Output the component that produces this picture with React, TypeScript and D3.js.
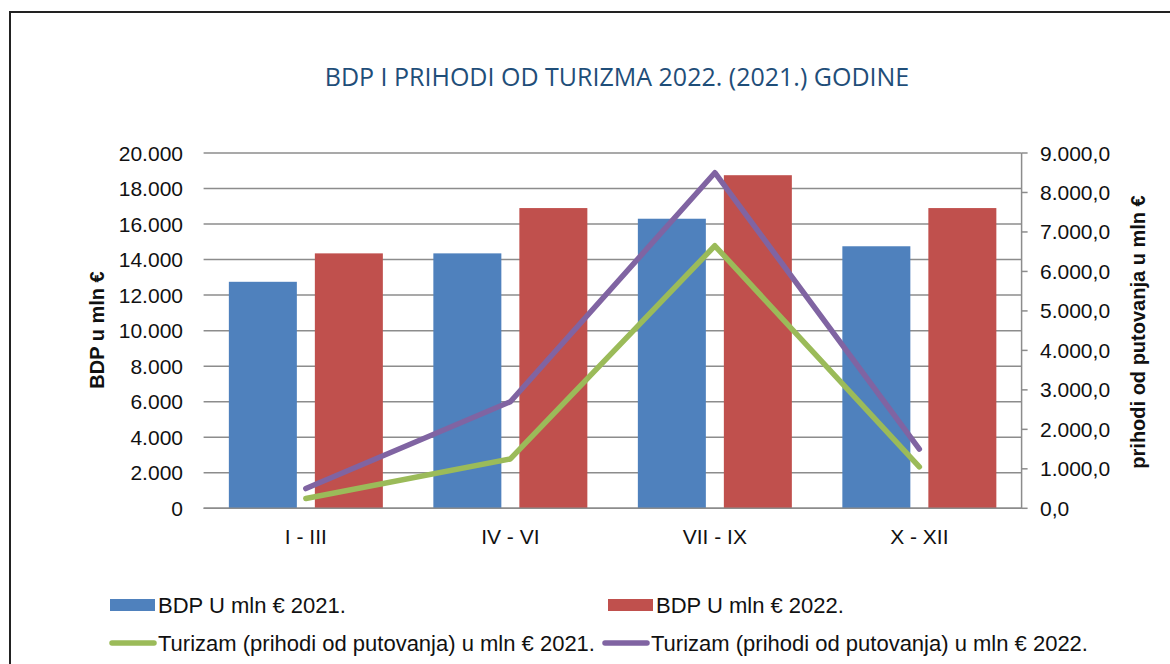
import React, { useRef, useEffect } from 'react';
import * as d3 from 'd3';

// quarters
const categories = ['I - III', 'IV - VI', 'VII - IX', 'X - XII'];
// BDP u mln € (left axis)
const bdp2021 = [12750, 14350, 16300, 14750];
const bdp2022 = [14350, 16900, 18750, 16900];
// prihodi od putovanja u mln € (right axis)
const tur2021 = [250, 1250, 6650, 1050];
const tur2022 = [500, 2700, 8500, 1500];

const leftTicks = d3.range(0, 20001, 2000);
const rightTicks = d3.range(0, 9001, 1000);

const legendItems = [
  { label: 'BDP U mln € 2021.', color: '#4F81BD', kind: 'bar' },
  { label: 'BDP U mln € 2022.', color: '#C0504D', kind: 'bar' },
  { label: 'Turizam (prihodi od putovanja) u mln € 2021.', color: '#9BBB59', kind: 'line' },
  { label: 'Turizam (prihodi od putovanja) u mln € 2022.', color: '#8064A2', kind: 'line' },
];

const App = () => {
  const svgRef = useRef(null);

  useEffect(() => {
    document.body.style.margin = '0';
    const svg = d3.select(svgRef.current);
    svg.selectAll('*').remove();

    const width = 1170;
    const height = 664;
    const left = 203.6, right = 1021.6, top = 153, bottom = 508.3;
    const font = "'Liberation Sans', Arial, sans-serif";

    svg.attr('width', width).attr('height', height);
    svg.append('rect').attr('width', width).attr('height', height).attr('fill', '#fff');

    // frame
    svg.append('path')
      .attr('d', `M10,${height} L10,12 L${width},12`)
      .attr('fill', 'none').attr('stroke', '#222').attr('stroke-width', 2);

    // title
    svg.append('text')
      .attr('x', 617).attr('y', 86)
      .attr('text-anchor', 'middle')
      .attr('font-family', "'Open Sans', sans-serif")
      .attr('font-size', 25)
      .attr('fill', '#1F4E79')
      .text('BDP I PRIHODI OD TURIZMA 2022. (2021.) GODINE');

    const x = d3.scaleBand().domain(categories).range([left, right]);
    const yL = d3.scaleLinear().domain([0, 20000]).range([bottom, top]);
    const yR = d3.scaleLinear().domain([0, 9000]).range([bottom, top]);

    // gridlines
    svg.append('g').selectAll('line').data(leftTicks).join('line')
      .attr('x1', left).attr('x2', right)
      .attr('y1', d => yL(d)).attr('y2', d => yL(d))
      .attr('stroke', '#8c8c8c').attr('stroke-width', 1.5);

    // left tick labels
    svg.append('g').selectAll('text').data(leftTicks).join('text')
      .attr('x', 183).attr('y', d => yL(d) + 7.5)
      .attr('text-anchor', 'end')
      .attr('font-family', font).attr('font-size', 21).attr('fill', '#111')
      .text(d => d === 0 ? '0' : d3.format(',')(d).replace(/,/g, '.'));

    // right axis
    svg.append('line')
      .attr('x1', right).attr('x2', right).attr('y1', top).attr('y2', bottom)
      .attr('stroke', '#8c8c8c').attr('stroke-width', 1.5);
    svg.append('g').selectAll('line').data(rightTicks).join('line')
      .attr('x1', right).attr('x2', right + 6)
      .attr('y1', d => yR(d)).attr('y2', d => yR(d))
      .attr('stroke', '#8c8c8c').attr('stroke-width', 1.5);
    svg.append('g').selectAll('text').data(rightTicks).join('text')
      .attr('x', 1040).attr('y', d => yR(d) + 7.5)
      .attr('font-family', font).attr('font-size', 21).attr('fill', '#111')
      .text(d => d === 0 ? '0,0' : d3.format(',')(d).replace(/,/g, '.') + ',0');

    // axis titles
    svg.append('text')
      .attr('transform', 'translate(104,330) rotate(-90)')
      .attr('text-anchor', 'middle')
      .attr('font-family', font).attr('font-size', 20).attr('font-weight', 'bold').attr('fill', '#111')
      .text('BDP u mln €');
    svg.append('text')
      .attr('transform', 'translate(1145,332) rotate(-90)')
      .attr('text-anchor', 'middle')
      .attr('font-family', font).attr('font-size', 20).attr('font-weight', 'bold').attr('fill', '#111')
      .text('prihodi od putovanja u mln €');

    // bars
    const barW = 68, gap = 18;
    const series = [
      { values: bdp2021, color: '#4F81BD', offset: -gap / 2 - barW },
      { values: bdp2022, color: '#C0504D', offset: gap / 2 },
    ];
    series.forEach(s => {
      svg.append('g').selectAll('rect').data(s.values).join('rect')
        .attr('x', (d, i) => x(categories[i]) + x.bandwidth() / 2 + s.offset)
        .attr('width', barW)
        .attr('y', d => yL(d))
        .attr('height', d => bottom - yL(d))
        .attr('fill', s.color);
    });

    // x axis line + labels
    svg.append('line')
      .attr('x1', left).attr('x2', right).attr('y1', bottom).attr('y2', bottom)
      .attr('stroke', '#8c8c8c').attr('stroke-width', 1.5);
    svg.append('g').selectAll('text').data(categories).join('text')
      .attr('x', d => x(d) + x.bandwidth() / 2)
      .attr('y', 544)
      .attr('text-anchor', 'middle')
      .attr('font-family', font).attr('font-size', 21).attr('fill', '#111')
      .text(d => d);

    // lines
    const line = d3.line<number>()
      .x((d, i) => x(categories[i]) + x.bandwidth() / 2)
      .y(d => yR(d));
    [{ values: tur2021, color: '#9BBB59' }, { values: tur2022, color: '#8064A2' }].forEach(s => {
      svg.append('path')
        .datum(s.values)
        .attr('d', line)
        .attr('fill', 'none')
        .attr('stroke', s.color)
        .attr('stroke-width', 5.5)
        .attr('stroke-linecap', 'round')
        .attr('stroke-linejoin', 'round');
    });

    // legend
    const legendPos = [[110, 605], [608, 605], [110, 643], [603, 643]];
    legendItems.forEach((item, i) => {
      const [lx, ly] = legendPos[i];
      const g = svg.append('g');
      if (item.kind === 'bar') {
        g.append('rect').attr('x', lx).attr('y', ly - 6).attr('width', 45).attr('height', 12).attr('fill', item.color);
      } else {
        g.append('line').attr('x1', lx + 2).attr('x2', lx + 44).attr('y1', ly).attr('y2', ly)
          .attr('stroke', item.color).attr('stroke-width', 5.5).attr('stroke-linecap', 'round');
      }
      g.append('text')
        .attr('x', lx + 48).attr('y', ly + 8)
        .attr('font-family', font).attr('font-size', 22).attr('fill', '#111')
        .text(item.label);
    });
  }, []);

  return <svg ref={svgRef}></svg>;
};

export default App;
